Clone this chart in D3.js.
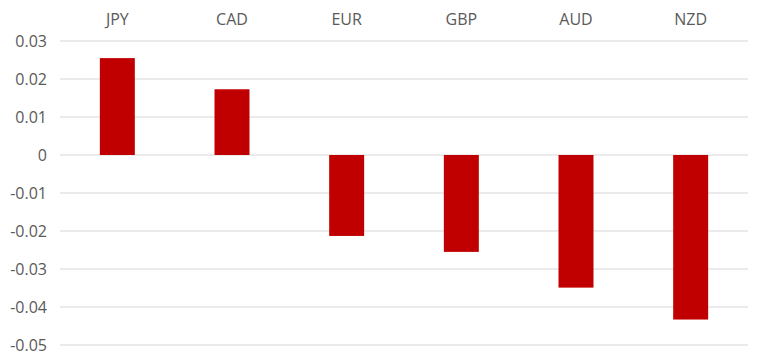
<!DOCTYPE html>
<html>
<head>
	<script src="https://d3js.org/d3.v7.min.js"></script>
	<style>
		body { margin: 0; background: #fff; }
		text { font-family: "Open Sans", sans-serif; fill: #5a5a5a; }
	</style>
</head>
<body>
<svg width="768" height="364"></svg>

<script type="text/javascript">
var currencies = ['JPY', 'CAD', 'EUR', 'GBP', 'AUD', 'NZD'];
var values = [0.0255, 0.0173, -0.0213, -0.0255, -0.0349, -0.0433];
var yTicks = [0.03, 0.02, 0.01, 0, -0.01, -0.02, -0.03, -0.04, -0.05];

var plotLeft = 60, plotRight = 748, plotTop = 41, plotBottom = 345;
var svg = d3.select('svg');

var x = d3.scaleBand()
	.domain(currencies)
	.range([plotLeft, plotRight])
	.paddingInner(0.695)
	.paddingOuter(0.3475);

var y = d3.scaleLinear()
	.domain([-0.05, 0.03])
	.range([plotBottom, plotTop]);

// gridlines
svg.append('g')
	.selectAll('line')
	.data(yTicks)
	.enter()
	.append('line')
	.attr('x1', plotLeft)
	.attr('x2', plotRight)
	.attr('y1', function(d) { return y(d); })
	.attr('y2', function(d) { return y(d); })
	.attr('stroke', '#e4e4e4')
	.attr('stroke-width', 1.5);

// y labels
var yAxis = svg.append('g')
	.attr('transform', 'translate(47,0)')
	.call(d3.axisLeft(y).tickValues(yTicks).tickSize(0).tickPadding(0)
		.tickFormat(function(d) { return d === 0 ? '0' : d3.format('.2f')(d).replace('−', '-'); }));
yAxis.select('.domain').remove();
yAxis.selectAll('text')
	.style('font-size', '16px')
	.attr('fill', '#5a5a5a');

// category labels on top
var xAxis = svg.append('g')
	.attr('transform', 'translate(0,25)')
	.call(d3.axisTop(x).tickSize(0).tickPadding(0));
xAxis.select('.domain').remove();
xAxis.selectAll('text')
	.style('font-size', '16px')
	.attr('fill', '#5a5a5a');

// bars
svg.append('g')
	.selectAll('rect')
	.data(values)
	.enter()
	.append('rect')
	.attr('x', function(d, i) { return x(currencies[i]); })
	.attr('width', x.bandwidth())
	.attr('y', function(d) { return y(Math.max(0, d)); })
	.attr('height', function(d) { return Math.abs(y(d) - y(0)); })
	.attr('fill', '#c00000');
</script>
</body>
</html>
